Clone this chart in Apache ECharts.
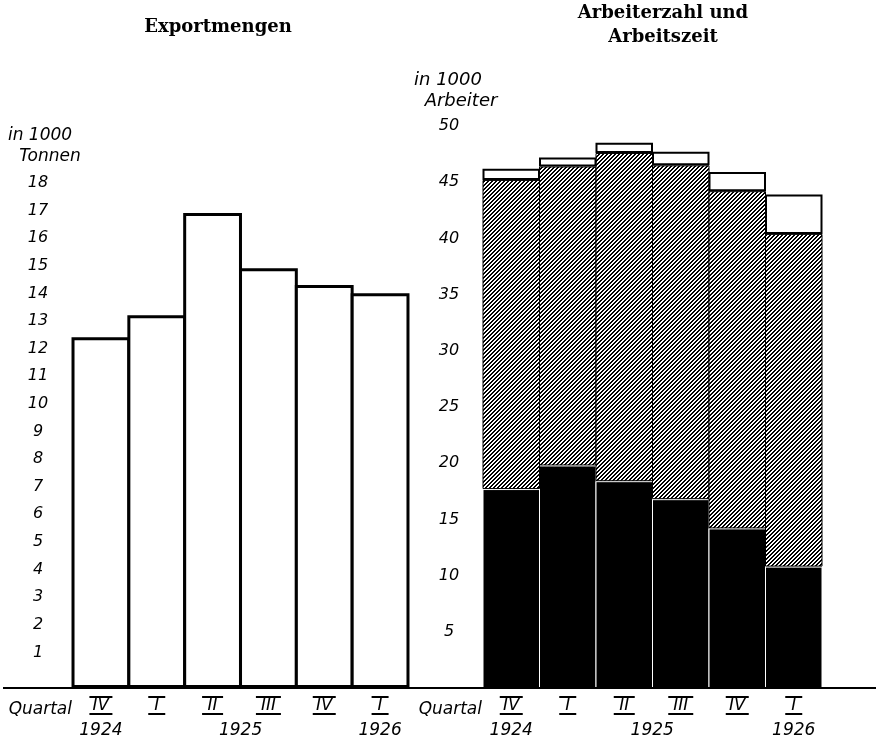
<!DOCTYPE html>
<html><head><meta charset="utf-8">
<script src="https://cdn.jsdelivr.net/npm/echarts@6/dist/echarts.min.js"></script>
<style>html,body{margin:0;padding:0;background:#fff}#c{width:876px;height:736px}</style>
</head><body><div id="c"></div>
<script>
// ---- data ----
const quarters = ['IV', 'I', 'II', 'III', 'IV', 'I'];
const yearLabels = ['1924', '', '1925', '', '', '1926'];
const yearSpansNext = [false, false, true, false, false, false]; // year label centred between this and next quarter
const exportTonnen = [12.7, 13.5, 17.2, 15.2, 14.6, 14.3];      // in 1000 t
const arbeiterSchwarz = [17.7, 19.8, 18.4, 16.8, 14.2, 10.8];     // black segment
const arbeiterSchraffiert = [27.5, 26.6, 29.2, 29.7, 30.0, 29.6]; // hatched segment
const arbeiterWeiss = [1.0, 0.8, 0.9, 1.2, 1.7, 3.5];             // white top segment

// ---- styling helpers ----
function hatch() {
  const n = 4;
  const c = document.createElement('canvas');
  c.width = n; c.height = n;
  const g = c.getContext('2d');
  g.fillStyle = '#fff'; g.fillRect(0, 0, n, n);
  g.fillStyle = '#000';
  for (let x = 0; x < n; x++) for (let y = 0; y < n; y++) {
    const k = (x + y) % n;
    if (k === 0 || k === 1) g.fillRect(x, y, 1, 1);
  }
  return c;
}
const lblFont = 'DejaVu Sans';
const base = { fontStyle: 'italic', fontFamily: lblFont, color: '#000' };
const rich = {
  q: Object.assign({ fontSize: 17, lineHeight: 15 }, base),
  y: Object.assign({ fontSize: 17, lineHeight: 31 }, base),
  ys: Object.assign({ fontSize: 17, lineHeight: 31, padding: [0, 0, 0, 56] }, base)
};
const barW = { 'I': 17, 'II': 21, 'III': 25, 'IV': 23 };
Object.keys(barW).forEach(k => {
  rich['b' + k] = { width: barW[k], height: 2, lineHeight: 2, fontSize: 2, backgroundColor: '#000' };
});
function xFormatter(v, i) {
  const bar = '{b' + v + '| }';
  let s = bar + '\n{q|' + v + '}\n' + bar;
  const yr = yearLabels[i];
  if (yr) s += '\n{' + (yearSpansNext[i] ? 'ys' : 'y') + '|' + yr + '}';
  return s;
}
function xAxisCfg(idx, gap) {
  return {
    type: 'category', gridIndex: idx, data: quarters,
    axisLine: { show: false }, axisTick: { show: false },
    axisLabel: { margin: 8, formatter: xFormatter, rich: rich, interval: 0 },
    name: 'Quartal', nameLocation: 'start', nameGap: gap,
    nameTextStyle: { fontSize: 17, fontStyle: 'italic', fontFamily: lblFont, color: '#000',
      align: 'right', verticalAlign: 'top', padding: [13, 0, 0, 0] }
  };
}

const chart = echarts.init(document.getElementById('c'), null, { renderer: 'canvas' });
const hatchImg = hatch();
chart.setOption({
  backgroundColor: '#fff',
  animation: false,
  grid: [
    { left: 73, right: 468, top: 191, bottom: 48, outerBoundsMode: 'none', containLabel: false },
    { left: 483, right: 54, top: 126, bottom: 48, outerBoundsMode: 'none', containLabel: false }
  ],
  xAxis: [xAxisCfg(0, 1), xAxisCfg(1, 1)],
  yAxis: [
    { type: 'value', gridIndex: 0, min: 0, max: 18, interval: 1,
      axisLine: { show: false }, axisTick: { show: false }, splitLine: { show: false },
      axisLabel: { margin: 35, align: 'center', verticalAlign: 'bottom', fontSize: 16, fontStyle: 'italic',
        fontFamily: lblFont, color: '#000', formatter: v => v === 0 ? '' : String(v) } },
    { type: 'value', gridIndex: 1, min: 0, max: 50, interval: 5,
      axisLine: { show: false }, axisTick: { show: false }, splitLine: { show: false },
      axisLabel: { margin: 34, align: 'center', verticalAlign: 'middle', fontSize: 16, fontStyle: 'italic',
        fontFamily: lblFont, color: '#000', formatter: v => v === 0 ? '' : String(v) } }
  ],
  series: [
    { type: 'bar', xAxisIndex: 0, yAxisIndex: 0, data: exportTonnen, barWidth: 58.8,
      itemStyle: { color: '#fff', borderColor: '#000', borderWidth: 3 } },
    { type: 'bar', xAxisIndex: 1, yAxisIndex: 1, stack: 'a', data: arbeiterSchwarz, barWidth: 57.5,
      itemStyle: { color: '#000', borderColor: '#fff', borderWidth: 1 } },
    { type: 'bar', xAxisIndex: 1, yAxisIndex: 1, stack: 'a', data: arbeiterSchraffiert, barWidth: 57.5,
      itemStyle: { color: { image: hatchImg, repeat: 'repeat' }, borderColor: '#000', borderWidth: 1 } },
    { type: 'bar', xAxisIndex: 1, yAxisIndex: 1, stack: 'a', data: arbeiterWeiss, barWidth: 57.5,
      itemStyle: { color: '#fff', borderColor: '#000', borderWidth: 2 } }
  ],
  graphic: [
    { type: 'line', shape: { x1: 3, y1: 688, x2: 876, y2: 688 }, style: { stroke: '#000', lineWidth: 2 }, z: 100 },
    { type: 'text', x: 218, y: 27, style: { text: 'Exportmengen', font: 'bold 18px "DejaVu Serif"', fill: '#000', textAlign: 'center', textVerticalAlign: 'middle' } },
    { type: 'text', x: 663, y: 25, style: { text: 'Arbeiterzahl und\nArbeitszeit', font: 'bold 18px "DejaVu Serif"', lineHeight: 24, fill: '#000', textAlign: 'center', textVerticalAlign: 'middle' } },
    { type: 'text', x: 40, y: 136, style: { text: 'in 1000', font: 'italic 17px "DejaVu Sans"', fill: '#000', textAlign: 'center', textVerticalAlign: 'middle' } },
    { type: 'text', x: 50, y: 157, style: { text: 'Tonnen', font: 'italic 17px "DejaVu Sans"', fill: '#000', textAlign: 'center', textVerticalAlign: 'middle' } },
    { type: 'text', x: 448, y: 80, style: { text: 'in 1000', font: 'italic 18px "DejaVu Sans"', fill: '#000', textAlign: 'center', textVerticalAlign: 'middle' } },
    { type: 'text', x: 461, y: 101, style: { text: 'Arbeiter', font: 'italic 18px "DejaVu Sans"', fill: '#000', textAlign: 'center', textVerticalAlign: 'middle' } }
  ]
});
</script></body></html>
